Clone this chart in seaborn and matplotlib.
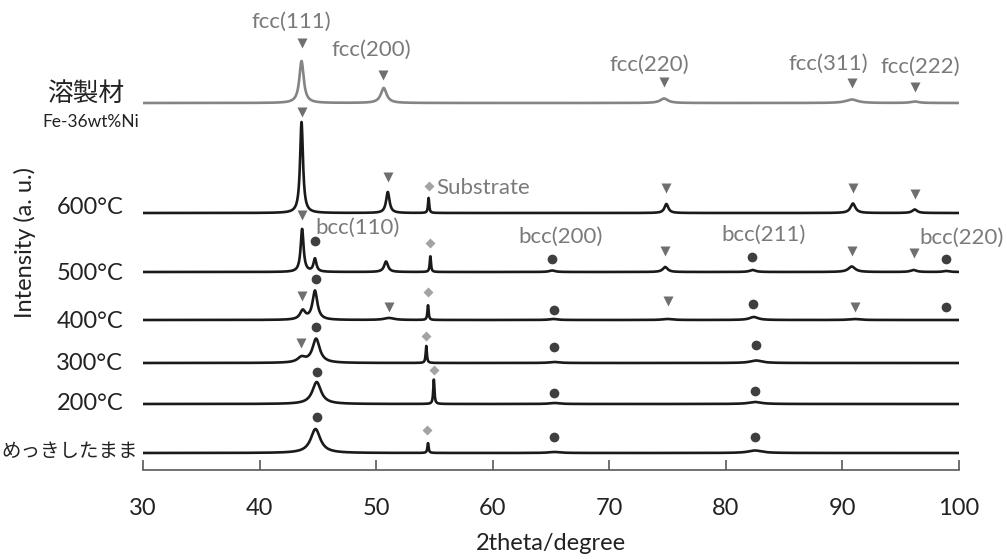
import numpy as np
import pandas as pd
import matplotlib
matplotlib.use("Agg")
import matplotlib.pyplot as plt
import seaborn as sns

# sample names (bottom -> top drawing order handled by offsets)
samples = ["溶製材", "600°C", "500°C", "400°C", "300°C", "200°C", "めっきしたまま"]

# peaks: (2theta, height, fwhm)
peaks_melt = [(43.6, 42, 0.45), (50.65, 15, 0.6), (74.7, 4.5, 0.8), (90.8, 3.5, 1.2), (96.2, 1.5, 0.8)]
peaks_600 = [(43.6, 91, 0.3), (51.0, 21, 0.35), (54.5, 15, 0.12), (74.9, 9, 0.4), (90.9, 9.5, 0.5), (96.2, 3.5, 0.5)]
peaks_500 = [(43.65, 43, 0.3), (44.75, 13, 0.3), (50.85, 10.5, 0.4), (54.65, 16, 0.12), (65.1, 1.5, 0.6),
             (74.8, 5, 0.5), (82.3, 2, 0.6), (90.8, 5.5, 0.7), (96.1, 2, 0.6), (98.9, 1, 0.6)]
peaks_400 = [(43.7, 9, 0.55), (44.75, 29, 0.5), (51.1, 2, 1.0), (54.45, 15, 0.12), (65.2, 1, 0.8),
             (75.0, 1, 1.0), (82.4, 3, 0.9), (91.0, 1, 1.0)]
peaks_300 = [(43.6, 5, 0.8), (44.85, 24, 0.75), (54.3, 17, 0.12), (65.3, 1, 1.0), (82.6, 2.5, 1.2)]
peaks_200 = [(44.9, 22, 0.9), (54.95, 25, 0.12), (65.3, 1, 1.0), (82.5, 2, 1.3)]
peaks_plated = [(44.8, 24, 1.0), (54.45, 10, 0.12), (65.3, 1, 1.2), (82.5, 2.5, 1.4)]

# markers: (2theta, kind, height above baseline)
marks_melt = [(43.6, "fcc", 60), (50.6, "fcc", 28), (74.7, "fcc", 21), (90.8, "fcc", 20), (96.2, "fcc", 16)]
marks_600 = [(43.6, "fcc", 101), (51.0, "fcc", 36), (54.5, "sub", 27), (74.9, "fcc", 25), (90.9, "fcc", 25), (96.2, "fcc", 19)]
marks_500 = [(43.6, "fcc", 57), (44.75, "bcc", 31), (54.65, "sub", 29), (65.1, "bcc", 13), (74.8, "fcc", 21),
             (82.2, "bcc", 15), (90.8, "fcc", 21), (96.1, "fcc", 19), (98.9, "bcc", 13)]
marks_400 = [(43.65, "fcc", 24), (44.8, "bcc", 41), (51.1, "fcc", 13), (54.45, "sub", 28), (65.3, "bcc", 10),
             (75.0, "fcc", 19), (82.3, "bcc", 16), (91.1, "fcc", 13), (98.9, "bcc", 13)]
marks_300 = [(43.55, "fcc", 20), (44.85, "bcc", 36), (54.3, "sub", 27), (65.3, "bcc", 16), (82.6, "bcc", 18)]
marks_200 = [(44.9, "bcc", 32), (55.0, "sub", 34), (65.3, "bcc", 11), (82.5, "bcc", 13)]
marks_plated = [(44.9, "bcc", 36), (54.4, "sub", 23), (65.3, "bcc", 16), (82.5, "bcc", 16)]

peak_sets = [peaks_melt, peaks_600, peaks_500, peaks_400, peaks_300, peaks_200, peaks_plated]
mark_sets = [marks_melt, marks_600, marks_500, marks_400, marks_300, marks_200, marks_plated]

# layout: vertical offsets of each trace, label placement
offsets = [367, 257, 198, 150, 107, 66, 17]
line_colors = ["#848484", "#1a1a1a", "#1a1a1a", "#1a1a1a", "#1a1a1a", "#1a1a1a", "#1a1a1a"]
marker_style = {"fcc": dict(marker="v", ms=6.5, color="#6f6f6f"),
                "bcc": dict(marker="o", ms=7, color="#3f3f3f"),
                "sub": dict(marker="D", ms=5.5, color="#a3a3a3")}

sns.set_theme(style="white")
plt.rcParams["font.family"] = ["Lato", "Noto Sans CJK JP", "DejaVu Sans"]

fig = plt.figure(figsize=(10.07, 5.59), dpi=100)
ax = fig.add_axes([143 / 1007, 1 - 470 / 559, 816 / 1007, 470 / 559])

x = np.linspace(30, 100, 3501)
frames = []
for name, pk, off in zip(samples, peak_sets, offsets):
    y = np.zeros_like(x)
    for c, h, w in pk:
        y += h / (1 + ((x - c) / (w / 2)) ** 2)
    frames.append(pd.DataFrame({"two_theta": x, "intensity": y + off, "sample": name}))
df = pd.concat(frames, ignore_index=True)

sns.lineplot(data=df, x="two_theta", y="intensity", hue="sample", palette=dict(zip(samples, line_colors)),
             linewidth=1.9, legend=False, ax=ax, estimator=None, sort=False)

for marks, off in zip(mark_sets, offsets):
    for pos, kind, h in marks:
        st = marker_style[kind]
        ax.plot(pos, off + h, marker=st["marker"], ms=st["ms"], color=st["color"], mec="none", ls="none")

# sample labels on the left
label_specs = [("溶製材", 25.1, 377, "center", 18.5), ("600°C", 28.3, 262, "right", 17),
               ("500°C", 28.3, 197, "right", 17), ("400°C", 28.3, 149, "right", 17),
               ("300°C", 28.3, 107, "right", 17), ("200°C", 28.3, 67, "right", 17),
               ("めっきしたまま", 29.55, 19, "right", 14)]
for txt, lx, ly, ha, fs in label_specs:
    ax.text(lx, ly, txt, ha=ha, va="center", fontsize=fs, color="#222222", clip_on=False)
ax.text(25.5, 348, "Fe-36wt%Ni", ha="center", va="center", fontsize=12.5, color="#222222", clip_on=False)

# phase labels
gray_txt = "#7a7a7a"
phase_labels = [("fcc(111)", 42.7, 448), ("fcc(200)", 49.6, 420), ("fcc(220)", 73.4, 405),
                ("fcc(311)", 88.75, 406), ("fcc(222)", 96.7, 403),
                ("bcc(200)", 65.8, 233), ("bcc(211)", 83.2, 235), ("bcc(220)", 100.2, 232)]
for txt, lx, ly in phase_labels:
    ax.text(lx, ly, txt, ha="center", va="center", fontsize=16, color=gray_txt, clip_on=False)
ax.text(44.75, 242, "bcc(110)", ha="left", va="center", fontsize=16, color=gray_txt, clip_on=False)
ax.text(55.2, 282, "Substrate", ha="left", va="center", fontsize=16, color=gray_txt, clip_on=False)

ax.set_xlim(30, 100)
ax.set_ylim(0, 470)
ax.set_xticks(range(30, 101, 10))
ax.set_yticks([])
for s in ["top", "right", "left"]:
    ax.spines[s].set_visible(False)
ax.spines["bottom"].set_color("#595959")
ax.spines["bottom"].set_linewidth(1.2)
ax.tick_params(axis="x", direction="in", length=7, width=1.2, color="#595959", pad=20, labelsize=17,
               labelcolor="#222222", bottom=True)
ax.set_xlabel("2theta/degree", fontsize=17, color="#222222", labelpad=10)
ax.set_ylabel("")
fig.text(25 / 1007, 1 - 242 / 559, "Intensity (a. u.)", rotation=90, ha="center", va="center",
         fontsize=17, color="#222222")

fig.savefig("out.png", dpi=100)
